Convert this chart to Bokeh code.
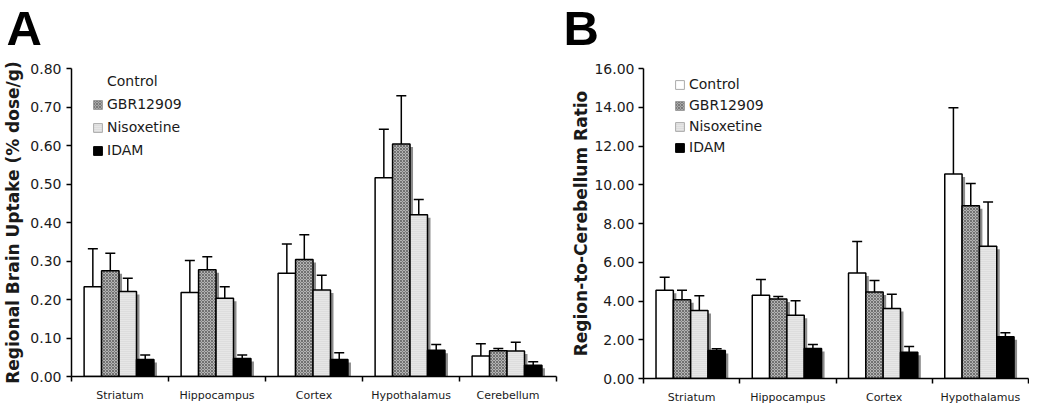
from bokeh.plotting import figure
from bokeh.models import (ColumnDataSource, Range1d, Whisker, TeeHead, Legend, LegendItem,
                          FixedTicker, SingleIntervalTicker, PrintfTickFormatter, Title)
from bokeh.transform import dodge
from bokeh.layouts import row
from bokeh.embed import file_html
from bokeh.resources import INLINE

# ---------------- data ----------------
series = ["Control", "GBR12909", "Nisoxetine", "IDAM"]

regions_a = ["Striatum", "Hippocampus", "Cortex", "Hypothalamus", "Cerebellum"]
control_a = [0.233, 0.218, 0.268, 0.516, 0.053]
control_a_err = [0.099, 0.083, 0.076, 0.126, 0.032]
gbr_a = [0.275, 0.277, 0.304, 0.604, 0.067]
gbr_a_err = [0.045, 0.034, 0.064, 0.125, 0.006]
nis_a = [0.221, 0.203, 0.225, 0.420, 0.066]
nis_a_err = [0.034, 0.030, 0.038, 0.040, 0.023]
idam_a = [0.044, 0.047, 0.044, 0.068, 0.029]
idam_a_err = [0.012, 0.009, 0.018, 0.015, 0.009]

regions_b = ["Striatum", "Hippocampus", "Cortex", "Hypothalamus"]
control_b = [4.56, 4.30, 5.45, 10.55]
control_b_err = [0.66, 0.81, 1.62, 3.43]
gbr_b = [4.06, 4.10, 4.46, 8.91]
gbr_b_err = [0.50, 0.13, 0.60, 1.15]
nis_b = [3.51, 3.27, 3.61, 6.83]
nis_b_err = [0.76, 0.74, 0.74, 2.28]
idam_b = [1.45, 1.55, 1.36, 2.15]
idam_b_err = [0.08, 0.20, 0.29, 0.21]

# ---------------- styles ----------------
FONT = "DejaVu Sans"
TXT = "#1a1a1a"
offsets = [0.22, 0.40, 0.58, 0.76]
bar_w = 0.18
bar_styles = [
    dict(fill_color="white"),
    dict(fill_color="#b4b4b4", hatch_pattern="x", hatch_color="#555555", hatch_scale=3, hatch_weight=0.7),
    dict(fill_color="#e6e6e6", hatch_pattern="-", hatch_color="#cccccc", hatch_scale=2, hatch_weight=0.7),
    dict(fill_color="black"),
]


def make_panel(letter, regions, vals, errs, ymax, ystep, ylabel, frame_w, frame_h,
               left_b, top_b, bottom_b, right_b, letter_dx, label_standoff, tick_standoff,
               legend_loc, legend_spacing, legend_ctrl_line):
    n = len(regions)
    p = figure(output_backend="svg", toolbar_location=None,
               frame_width=frame_w, frame_height=frame_h,
               x_range=Range1d(0, n), y_range=Range1d(0, ymax),
               min_border_left=left_b, min_border_top=top_b, min_border_bottom=bottom_b,
               min_border_right=right_b, outline_line_color=None)
    p.title = None
    p.xgrid.visible = False
    p.ygrid.visible = False

    # spacer (closest to the frame) and panel letter above it
    p.add_layout(Title(text=" ", text_font_size="10px", standoff=10), "above")
    p.add_layout(Title(text=letter, align="left", offset=letter_dx, standoff=-20,
                       vertical_align="middle",
                       text_font="Liberation Sans", text_font_style="bold",
                       text_font_size="49px", text_color="black"), "above")

    # shadow offsets (3px right, 3px down)
    dx = 3.0 * n / frame_w
    dy = 3.0 * ymax / frame_h

    leg_styles = [
        dict(fill_color="white", line_color=legend_ctrl_line),
        dict(fill_color="#a8a8a8", hatch_pattern="x", hatch_color="#666666", hatch_scale=3,
             hatch_weight=0.7, line_color="#999999"),
        dict(fill_color="#e6e6e6", hatch_pattern="-", hatch_color="#cccccc", hatch_scale=2,
             hatch_weight=0.7, line_color="#aaaaaa"),
        dict(fill_color="black", line_color="black"),
    ]

    idx = list(range(n))
    items = []
    for k, name in enumerate(series):
        v = vals[k]
        e = errs[k]
        src = ColumnDataSource(dict(
            idx=idx, top=v,
            shadow=[max(t - dy, 0) for t in v],
            upper=[t + d for t, d in zip(v, e)],
            lower=[t - d for t, d in zip(v, e)],
        ))
        p.vbar(x=dodge("idx", offsets[k] + dx, range=p.x_range), top="shadow", bottom=0,
               width=bar_w, source=src, fill_color="#8c8c8c", line_color=None)
        p.vbar(x=dodge("idx", offsets[k], range=p.x_range), top="top", bottom=0,
               width=bar_w, source=src, line_color="black", line_width=1.5,
               **bar_styles[k])
        w = Whisker(source=src, base=dodge("idx", offsets[k], range=p.x_range),
                    upper="upper", lower="lower", line_color="black", line_width=1.5,
                    upper_head=TeeHead(size=10, line_width=1.5, line_color="black"),
                    lower_head=TeeHead(size=10, line_width=1.5, line_color="black"))
        p.add_layout(w)
        # hidden renderer used only for the legend swatch
        lr = p.vbar(x=dodge("idx", offsets[k], range=p.x_range), top="top", bottom=0,
                    width=bar_w, source=src, visible=False, **leg_styles[k])
        items.append(LegendItem(label=name, renderers=[lr]))

    leg = Legend(items=items, location=legend_loc, padding=0, margin=0,
                 spacing=legend_spacing, glyph_width=11, glyph_height=11, label_height=20,
                 label_standoff=4, label_text_font=FONT, label_text_font_size="14px",
                 label_text_color=TXT, border_line_color=None, background_fill_alpha=0,
                 click_policy="none")
    p.add_layout(leg)

    # y axis
    ya = p.yaxis[0]
    ya.ticker = SingleIntervalTicker(interval=ystep, num_minor_ticks=0)
    ya.formatter = PrintfTickFormatter(format="%.2f")
    ya.axis_label = ylabel
    ya.axis_label_text_font = FONT
    ya.axis_label_text_font_style = "bold"
    ya.axis_label_text_font_size = "17px"
    ya.axis_label_text_color = TXT
    ya.axis_label_standoff = label_standoff
    ya.major_label_text_font = FONT
    ya.major_label_text_font_size = "14px"
    ya.major_label_text_color = TXT
    ya.major_label_standoff = tick_standoff
    ya.major_tick_in = 0
    ya.major_tick_out = 5
    ya.major_tick_line_width = 1.5
    ya.axis_line_width = 1.5
    ya.minor_tick_line_color = None

    # x axis: labels centred, ticks at category boundaries
    xa = p.xaxis[0]
    centers = [i + 0.5 for i in range(n)]
    xa.ticker = FixedTicker(ticks=centers, minor_ticks=list(range(n + 1)))
    xa.major_label_overrides = {c: r for c, r in zip(centers, regions)}
    xa.major_tick_line_color = None
    xa.major_tick_in = 0
    xa.major_tick_out = 0
    xa.minor_tick_in = 0
    xa.minor_tick_out = 5
    xa.minor_tick_line_color = "black"
    xa.minor_tick_line_width = 1.5
    xa.axis_line_width = 1.5
    xa.major_label_text_font = FONT
    xa.major_label_text_font_size = "11px"
    xa.major_label_text_color = TXT
    xa.major_label_standoff = 7
    return p


pa = make_panel("A", regions_a,
                [control_a, gbr_a, nis_a, idam_a],
                [control_a_err, gbr_a_err, nis_a_err, idam_a_err],
                0.80, 0.10, "Regional Brain Uptake (% dose/g)",
                485, 308, 67, 68, 25, 5, -65, 4, 5, (21, 216), 3, None)
pb = make_panel("B", regions_b,
                [control_b, gbr_b, nis_b, idam_b],
                [control_b_err, gbr_b_err, nis_b_err, idam_b_err],
                16.0, 2.0, "Region-to-Cerebellum Ratio",
                385, 310, 82, 66, 25, 1, -80, 0, 4, (31, 221), 1, "#aaaaaa")

layout = row(pa, pb, spacing=0)
open("out.html", "w").write(file_html(layout, INLINE))
